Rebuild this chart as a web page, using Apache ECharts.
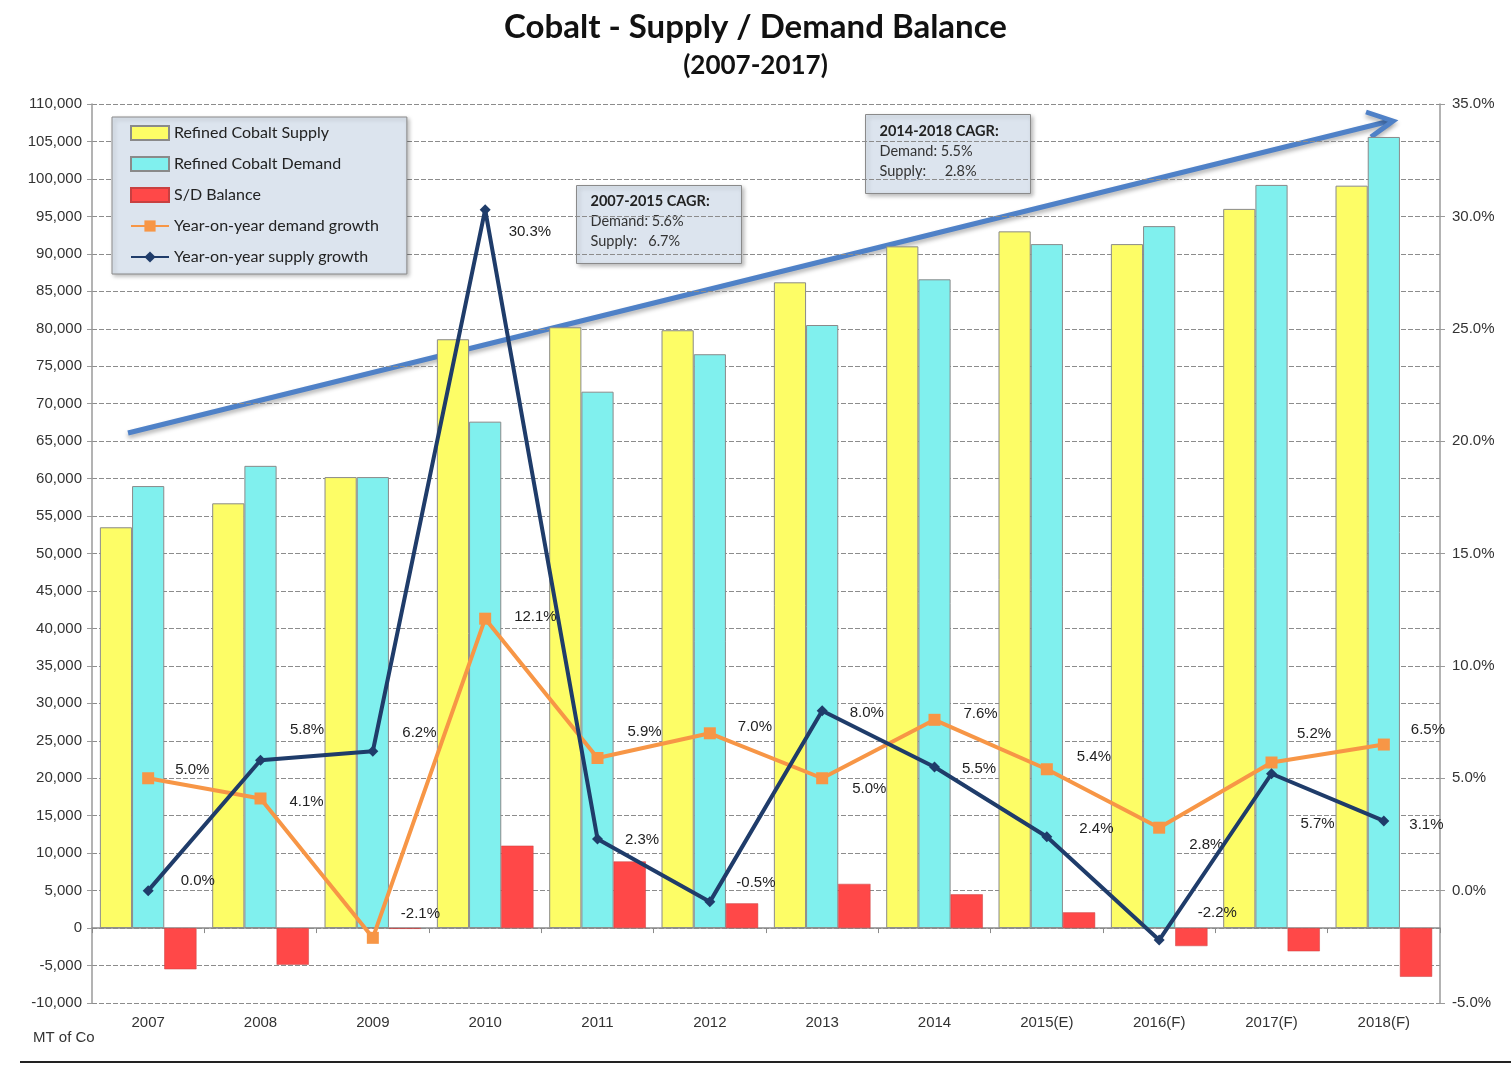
<!DOCTYPE html>
<html>
<head>
<meta charset="utf-8">
<title>Cobalt - Supply / Demand Balance</title>
<script src="https://cdn.jsdelivr.net/npm/echarts@6/dist/echarts.min.js"></script>
<style>
  html, body { margin: 0; padding: 0; background: #fff; }
  #chart { width: 1511px; height: 1065px; }
</style>
</head>
<body>
<div id="chart"></div>
<script>
// categories
var years = ['2007', '2008', '2009', '2010', '2011', '2012', '2013', '2014', '2015(E)', '2016(F)', '2017(F)', '2018(F)']

// MT of Co
var supply = [53500, 56700, 60200, 78600, 80200, 79800, 86200, 91000, 93000, 91300, 96000, 99100]
var demand = [59000, 61700, 60200, 67600, 71600, 76600, 80500, 86600, 91300, 93700, 99200, 105600]
var balance = [-5500, -4900, -100, 11000, 8900, 3300, 5900, 4500, 2100, -2400, -3100, -6500]

// year-on-year growth, %
var demandGrowth = [5.0, 4.1, -2.1, 12.1, 5.9, 7.0, 5.0, 7.6, 5.4, 2.8, 5.7, 6.5]
var supplyGrowth = [0.0, 5.8, 6.2, 30.3, 2.3, -0.5, 8.0, 5.5, 2.4, -2.2, 5.2, 3.1]

// label nudges (px), as placed on the original slide
var demandLabelShift = [[1, -8], [3, 3], [2, -24], [3, -2], [4, -26], [2, -6], [4, 11], [3, -6], [4, -12], [4, 17], [3, 61], [1, -15]]
var supplyLabelShift = [[7, -10], [4, -30], [4, -18], [-2, 22], [2, 1], [1, -19], [2, 2], [2, 2], [7, -8], [13, -27], [0, -40], [0, 4]]

var chart = echarts.init(document.getElementById('chart'))

function lineData(vals, shifts) {
  return vals.map(function(v, i) {
    return { value: v, label: { offset: shifts[i] } }
  })
}

var barBorder = { borderColor: '#8a8a8a', borderWidth: 1 }
var lblFont = 'Liberation Sans, Arial, sans-serif'
var boxFont = 'Lato, sans-serif'

chart.setOption({
  animation: false,
  title: {
    text: 'Cobalt - Supply / Demand Balance',
    subtext: '(2007-2017)',
    left: 'center',
    top: 4,
    itemGap: 6,
    textStyle: { fontFamily: boxFont, fontWeight: 'bold', fontSize: 33, color: '#111', lineHeight: 36 },
    subtextStyle: { fontFamily: boxFont, fontWeight: 'bold', fontSize: 26, color: '#111', lineHeight: 30 }
  },
  legend: {
    orient: 'vertical',
    left: 112,
    top: 117,
    padding: [8, 28, 9, 18],
    itemGap: 15,
    itemWidth: 38,
    itemHeight: 14,
    backgroundColor: '#dce4ee',
    borderColor: '#8a8a8a',
    borderWidth: 1,
    shadowColor: 'rgba(0,0,0,0.25)',
    shadowBlur: 4,
    shadowOffsetX: 2,
    shadowOffsetY: 2,
    textStyle: { fontFamily: boxFont, fontSize: 16, color: '#222' },
    data: [
      { name: 'Refined Cobalt Supply', icon: 'rect' },
      { name: 'Refined Cobalt Demand', icon: 'rect' },
      { name: 'S/D Balance', icon: 'rect' },
      { name: 'Year-on-year demand growth' },
      { name: 'Year-on-year supply growth' }
    ]
  },
  grid: { left: 92, right: 71, top: 104, bottom: 62, containLabel: false },
  xAxis: [
    {
      type: 'category',
      data: years,
      axisLine: { onZero: true, lineStyle: { color: '#8a8a8a', width: 1.5 } },
      axisTick: { show: true, length: 5, lineStyle: { color: '#8a8a8a' } },
      axisLabel: { show: false }
    },
    {
      type: 'category',
      data: years,
      position: 'bottom',
      axisLine: { show: false },
      axisTick: { show: false },
      axisLabel: { margin: 12, fontFamily: lblFont, fontSize: 15, color: '#333' }
    }
  ],
  yAxis: [
    {
      type: 'value',
      min: -10000,
      max: 110000,
      interval: 5000,
      axisLine: { show: true, lineStyle: { color: '#9a9a9a', width: 1.5 } },
      axisTick: { show: true, length: 5, lineStyle: { color: '#9a9a9a' } },
      axisLabel: {
        margin: 10,
        fontFamily: lblFont,
        fontSize: 15,
        color: '#333',
        formatter: function(v) { return v.toLocaleString('en-US') }
      },
      splitLine: { lineStyle: { color: '#8c8c8c', type: [5, 2], width: 1 } }
    },
    {
      type: 'value',
      min: -5,
      max: 35,
      interval: 5,
      position: 'right',
      axisLine: { show: true, lineStyle: { color: '#9a9a9a', width: 1.5 } },
      axisTick: { show: true, length: 5, lineStyle: { color: '#9a9a9a' } },
      axisLabel: {
        margin: 12,
        fontFamily: lblFont,
        fontSize: 15,
        color: '#333',
        formatter: function(v) { return v.toFixed(1) + '%' }
      },
      splitLine: { show: false }
    }
  ],
  series: [
    {
      name: 'Refined Cobalt Supply',
      type: 'bar',
      barGap: 0,
      barCategoryGap: '14%',
      itemStyle: Object.assign({ color: '#fdfd66' }, barBorder),
      data: supply
    },
    {
      name: 'Refined Cobalt Demand',
      type: 'bar',
      itemStyle: Object.assign({ color: '#80f0ee' }, barBorder),
      data: demand
    },
    {
      name: 'S/D Balance',
      type: 'bar',
      itemStyle: { color: '#ff4848', borderColor: '#c84040', borderWidth: 0.5 },
      data: balance
    },
    {
      name: 'Year-on-year demand growth',
      type: 'line',
      yAxisIndex: 1,
      z: 5,
      symbol: 'rect',
      symbolSize: 12,
      lineStyle: { color: '#f79646', width: 4 },
      itemStyle: { color: '#f79646' },
      label: {
        show: true,
        position: 'right',
        distance: 20,
        fontFamily: lblFont,
        fontSize: 15,
        color: '#222',
        formatter: function(p) { return p.value.toFixed(1) + '%' }
      },
      data: lineData(demandGrowth, demandLabelShift)
    },
    {
      name: 'Year-on-year supply growth',
      type: 'line',
      yAxisIndex: 1,
      z: 6,
      symbol: 'diamond',
      symbolSize: 11,
      lineStyle: { color: '#1f3c6a', width: 4 },
      itemStyle: { color: '#1f3c6a' },
      label: {
        show: true,
        position: 'right',
        distance: 20,
        fontFamily: lblFont,
        fontSize: 15,
        color: '#222',
        formatter: function(p) { return p.value.toFixed(1) + '%' }
      },
      data: lineData(supplyGrowth, supplyLabelShift)
    }
  ],
  graphic: [
    // trend arrow
    {
      type: 'group',
      z: 100,
      children: [
        {
          type: 'line',
          shape: { x1: 128, y1: 433, x2: 1390, y2: 121 },
          style: { stroke: '#4f81c7', lineWidth: 5, shadowColor: 'rgba(0,0,0,0.3)', shadowBlur: 4, shadowOffsetY: 3 }
        },
        {
          type: 'polyline',
          shape: { points: [[1366, 112], [1393, 121], [1371, 137]] },
          style: { stroke: '#4f81c7', fill: null, lineWidth: 5, lineJoin: 'miter', shadowColor: 'rgba(0,0,0,0.3)', shadowBlur: 4, shadowOffsetY: 3 }
        }
      ]
    },
    // CAGR boxes
    {
      type: 'group',
      left: 576,
      top: 185,
      z: 90,
      children: [
        {
          type: 'rect',
          shape: { width: 165, height: 78 },
          style: { fill: '#dce4ee', stroke: '#8a8a8a', lineWidth: 1, shadowColor: 'rgba(0,0,0,0.25)', shadowBlur: 4, shadowOffsetX: 2, shadowOffsetY: 2 }
        },
        {
          type: 'text',
          left: 14,
          top: 6,
          style: {
            text: '{b|2007-2015 CAGR:}\nDemand: 5.6%\nSupply:   6.7%',
            fontFamily: boxFont,
            fontSize: 14.5,
            lineHeight: 20,
            fill: '#333',
            rich: { b: { fontWeight: 'bold', fontFamily: boxFont, fontSize: 14.5, lineHeight: 20, fill: '#222' } }
          }
        }
      ]
    },
    {
      type: 'group',
      left: 865,
      top: 114,
      z: 90,
      children: [
        {
          type: 'rect',
          shape: { width: 165, height: 79 },
          style: { fill: '#dce4ee', stroke: '#8a8a8a', lineWidth: 1, shadowColor: 'rgba(0,0,0,0.25)', shadowBlur: 4, shadowOffsetX: 2, shadowOffsetY: 2 }
        },
        {
          type: 'text',
          left: 14,
          top: 7,
          style: {
            text: '{b|2014-2018 CAGR:}\nDemand: 5.5%\nSupply:     2.8%',
            fontFamily: boxFont,
            fontSize: 14.5,
            lineHeight: 20,
            fill: '#333',
            rich: { b: { fontWeight: 'bold', fontFamily: boxFont, fontSize: 14.5, lineHeight: 20, fill: '#222' } }
          }
        }
      ]
    },
    // unit
    {
      type: 'text',
      left: 33,
      top: 1030,
      style: { text: 'MT of Co', fontFamily: lblFont, fontSize: 15, fill: '#333' }
    },
    // slide rule
    {
      type: 'rect',
      left: 20,
      top: 1061,
      shape: { width: 1491, height: 2 },
      style: { fill: '#222' }
    }
  ]
})
</script>
</body>
</html>
